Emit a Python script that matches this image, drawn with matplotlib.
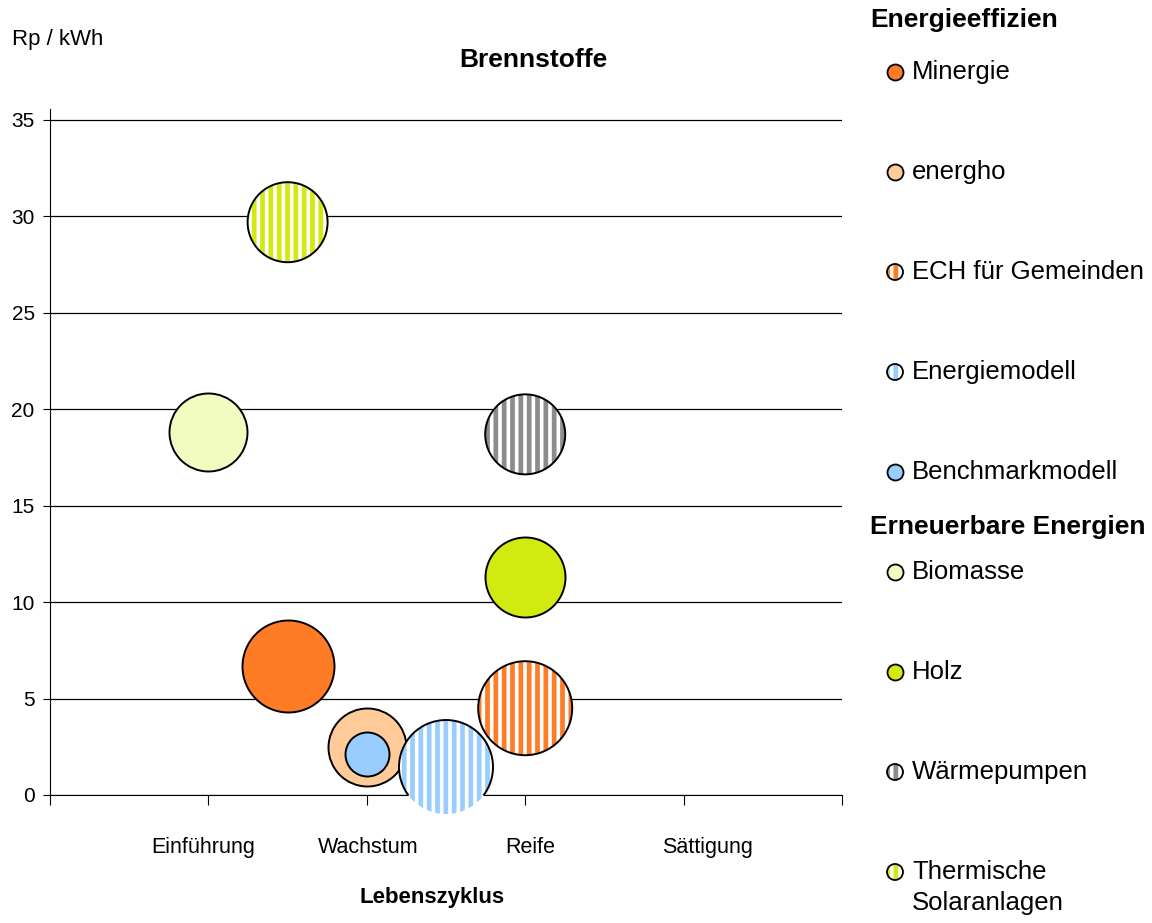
import matplotlib
matplotlib.use('Agg')
import matplotlib.pyplot as plt

plt.rcParams['font.family'] = ['Liberation Sans', 'DejaVu Sans']
plt.rcParams['hatch.linewidth'] = 3.4

# Lebenszyklus-Phasen (x-Achse)
phasen = ['Einführung', 'Wachstum', 'Reife', 'Sättigung']

# Programme / Technologien
namen = ['Minergie', 'energho', 'ECH für Gemeinden', 'Energiemodell', 'Benchmarkmodell',
         'Biomasse', 'Holz', 'Wärmepumpen', 'Thermische\nSolaranlagen']
lebenszyklus = [1.5, 2.0, 3.0, 2.5, 2.0, 1.0, 3.0, 3.0, 1.5]
kosten = [6.7, 2.5, 4.5, 1.45, 2.1, 18.8, 11.3, 18.7, 29.7]   # Rp / kWh
groesse = [46, 39, 47, 47, 22, 39, 40, 40, 40]               # Blasengrösse (relativ)
farben = ['#FF7C26', '#FFCC99', '#FF7C26', '#99CCFF', '#99CCFF',
          '#F2FBC0', '#D2EA10', '#8C8C8C', '#D2EA10']
gestreift = [False, False, True, True, False, False, False, True, True]

DPI = 100
W, H = 1152, 923
fig = plt.figure(figsize=(W / DPI, H / DPI), dpi=DPI)
ax = fig.add_axes([50 / W, 1 - 795 / H, (842 - 50) / W, (795 - 109) / H])
ax.set_xlim(0, 5)
ax.set_ylim(0, 35.57)
ax.set_yticks(range(0, 36, 5))
ax.set_xticks(range(0, 6))
ax.set_xticklabels([])
ax.grid(axis='y', color='black', lw=0.9)
ax.set_axisbelow(True)
ax.spines['top'].set_visible(False)
ax.spines['right'].set_visible(False)
ax.tick_params(axis='y', direction='out', length=5, labelsize=15, pad=6)
ax.tick_params(axis='x', direction='out', length=7)


def flaeche(r):
    return (2 * r * 72 / DPI) ** 2


for i in range(len(namen)):
    s = flaeche(groesse[i])
    z = 3 + i * 0.1
    if gestreift[i]:
        ax.scatter(lebenszyklus[i], kosten[i], s=s, facecolor='white', edgecolor=farben[i],
                   hatch='||', linewidths=0, zorder=z, clip_on=False)
        ax.scatter(lebenszyklus[i], kosten[i], s=s, facecolor='none', edgecolor='black',
                   linewidths=1.4, zorder=z + 0.05, clip_on=True)
    else:
        ax.scatter(lebenszyklus[i], kosten[i], s=s, facecolor=farben[i], edgecolor='black',
                   linewidths=1.4, zorder=z, clip_on=False)

# Phasen-Beschriftung
versatz = [-0.03, 0.01, 0.03, 0.15]
for k, p in enumerate(phasen):
    ax.text(k + 1 + versatz[k], -2.7, p, ha='center', va='center', fontsize=15.5)

fig.text(432 / W, 1 - 898 / H, 'Lebenszyklus', ha='center', va='center',
         fontsize=16, fontweight='bold')
fig.text(12 / W, 1 - 40 / H, 'Rp / kWh', ha='left', va='center', fontsize=16)
fig.text(533 / W, 1 - 60 / H, 'Brennstoffe', ha='center', va='center',
         fontsize=19, fontweight='bold')

# Legende
lax = fig.add_axes([0, 0, 1, 1], zorder=-1)
lax.set_xlim(0, W)
lax.set_ylim(H, 0)
lax.axis('off')
lax.patch.set_visible(False)

lax.text(870, 20, 'Energieeffizien', ha='left', va='center', fontsize=19, fontweight='bold')
lax.text(870, 527, 'Erneuerbare Energien', ha='left', va='center', fontsize=19, fontweight='bold')

for i in range(len(namen)):
    y = 72 + 100 * i
    s = flaeche(8)
    if gestreift[i]:
        lax.scatter(895, y, s=s, facecolor='white', edgecolor=farben[i], hatch='||', linewidths=0)
        lax.scatter(895, y, s=s, facecolor='none', edgecolor='black', linewidths=1.3)
    else:
        lax.scatter(895, y, s=s, facecolor=farben[i], edgecolor='black', linewidths=1.3)
    for k, zeile in enumerate(namen[i].split('\n')):
        lax.text(912, y + 31 * k, zeile, ha='left', va='center', fontsize=18.5)

fig.savefig('out.png', dpi=DPI)
